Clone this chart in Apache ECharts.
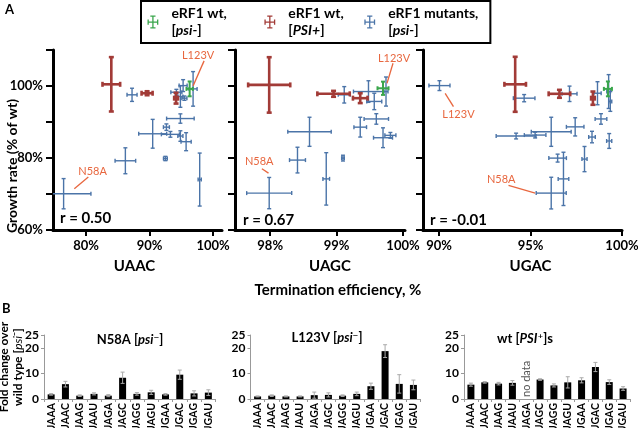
<!DOCTYPE html>
<html><head><meta charset="utf-8">
<script src="https://cdn.jsdelivr.net/npm/echarts@6/dist/echarts.min.js"></script>
<style>html,body{margin:0;padding:0;background:#fff}#c{width:638px;height:428px}</style>
</head><body><div id="c"></div><script>
// ---------- Panel A data: [termination efficiency %, growth rate %, x error, y error]
const uaacWtPsiMinus = [[96.31, 99.2, 0.5, 2.06]];
const uaacWtPsiPlus = [[83.98, 100.47, 1.39, 7.55], [89.61, 97.99, 0.87, 0.55], [94.17, 96.62, 0.3, 1.5]];
const uaacMutants = [
  [87.24, 97.55, 0.79, 1.83], [95.28, 100.11, 0.63, 1.65], [94.22, 98.27, 0.87, 0.8], [95.48, 96.62, 0.4, 0.6],
  [94.85, 97.09, 0.4, 3.0], [96.85, 99.2, 0.63, 4.8], [94.85, 90.96, 2.17, 1.3], [92.65, 88.57, 0.47, 0.9],
  [90.49, 86.73, 2.2, 4.0], [93.28, 86.57, 1.42, 0.8], [94.85, 86.1, 0.4, 1.46], [95.75, 84.53, 0.8, 2.5],
  [86.19, 79.23, 1.62, 3.6], [92.49, 79.86, 0.3, 0.6], [97.89, 74.01, 0.25, 7.36], [76.47, 70.08, 4.3, 4.2]];

const uagcWtPsiMinus = [[99.699, 99.37, 0.083, 1.84]];
const uagcWtPsiPlus = [[97.985, 100.3, 0.317, 7.7], [98.954, 97.83, 0.244, 0.82], [99.356, 96.62, 0.11, 1.37]];
const uagcMutants = [
  [99.115, 97.55, 0.09, 2.28], [99.48, 98.46, 0.226, 3.0], [99.567, 95.71, 0.113, 2.28], [99.744, 98.46, 0.03, 4.04],
  [99.598, 90.85, 0.184, 1.46], [99.356, 88.57, 0.095, 2.75], [99.699, 85.63, 0.143, 2.75], [99.81, 86.29, 0.083, 0.8],
  [99.096, 79.97, 0.02, 0.8], [98.592, 87.28, 0.327, 4.04], [98.411, 79.42, 0.12, 3.57], [98.844, 74.2, 0.05, 7.28],
  [97.985, 70.25, 0.339, 4.34]];

const ugacWtPsiMinus = [[99.23, 99.2, 0.22, 2.06]];
const ugacWtPsiPlus = [[94.16, 100.47, 0.59, 7.64], [96.58, 97.83, 0.59, 1.1], [98.41, 96.62, 0.1, 1.84]];
const ugacMutants = [
  [90.02, 100.11, 0.575, 1.37], [94.65, 96.62, 0.59, 1.0], [97.13, 97.83, 0.41, 2.14], [98.66, 97.99, 0.2, 3.2],
  [99.27, 98.46, 0.1, 4.7], [99.36, 95.71, 0.08, 2.75], [98.85, 90.85, 0.32, 1.46], [97.44, 88.65, 0.48, 2.53],
  [96.13, 87.28, 1.09, 4.04], [94.21, 86.1, 1.09, 0.8], [95.25, 86.37, 0.59, 0.8], [98.36, 85.82, 0.18, 1.6],
  [99.30, 84.73, 0.14, 2.06], [96.48, 79.97, 0.48, 1.1], [97.95, 79.7, 0.14, 3.5], [96.8, 74.2, 0.29, 7.4],
  [96.13, 70.25, 0.82, 4.4]];

const stopCodonsA = ['UAAC', 'UAGC', 'UGAC'];
const rValues = ['r = 0.50', 'r = 0.67', 'r = -0.01'];
const xTicksA = [[80, 90, 100], [98, 99, 100], [90, 95, 100]];
const xRangesA = [[74.8, 101.4], [97.47, 100.03], [89.12, 100]];
const yTicksA = [60, 80, 100];

// ---------- Panel B data
const codons = ['UAAA','UAAC','UAAG','UAAU','UAGA','UAGC','UAGG','UAGU','UGAA','UGAC','UGAG','UGAU'];
const n58aFold = [1.8, 5.8, 1.3, 2.0, 1.3, 8.3, 2.0, 2.6, 1.8, 9.5, 2.2, 2.5];
const n58aErr  = [0.3, 1.1, 0.3, 0.4, 0.4, 2.2, 0.5, 0.8, 0.3, 1.8, 1.0, 1.1];
const l123vFold = [1.0, 1.3, 1.0, 1.0, 1.5, 1.6, 1.3, 2.0, 5.0, 18.7, 5.9, 5.5];
const l123vErr  = [0.2, 0.3, 0.2, 0.2, 1.2, 0.8, 0.3, 0.7, 1.2, 2.5, 3.6, 1.9];
const psiPlusFold = [5.6, 6.5, 6.0, 6.3, null, 7.6, 5.3, 6.5, 7.3, 12.5, 6.6, 4.1];
const psiPlusErr  = [0.6, 0.3, 0.5, 0.9, null, 0.3, 0.6, 2.2, 1.0, 1.8, 0.9, 0.7];

// ---------- styles / layout
const FONT = 'Lato';
const GREEN = '#3aa64c', RED = '#a23b37', BLUE = '#4b74a8', ANNOT = '#e8673f';
const NAMES = ['eRF1 wt, [psi-]', 'eRF1 wt, [PSI+]', 'eRF1 mutants, [psi-]'];
const gridsA = [
  {left: 53, top: 50, width: 169, height: 180},
  {left: 235, top: 50, width: 170, height: 180},
  {left: 423, top: 50, width: 199, height: 180}
];
const gridsB = [
  {left: 44, top: 335, width: 171.5, height: 64},
  {left: 250.5, top: 335, width: 170, height: 64},
  {left: 464, top: 335, width: 166, height: 64}
];

function crossItem(lw, cap) {
  return function (params, api) {
    const x = api.value(0), y = api.value(1), ex = api.value(2), ey = api.value(3);
    const c = api.coord([x, y]);
    const xl = api.coord([x - ex, y])[0], xr = api.coord([x + ex, y])[0];
    const yt = api.coord([x, y + ey])[1], yb = api.coord([x, y - ey])[1];
    const col = api.visual('color');
    const L = (x1, y1, x2, y2) => ({type: 'line', shape: {x1, y1, x2, y2}, style: {stroke: col, lineWidth: lw}});
    return {type: 'group', children: [
      L(xl, c[1], xr, c[1]), L(c[0], yt, c[0], yb),
      L(xl, c[1] - cap, xl, c[1] + cap), L(xr, c[1] - cap, xr, c[1] + cap),
      L(c[0] - cap, yt, c[0] + cap, yt), L(c[0] - cap, yb, c[0] + cap, yb)
    ]};
  };
}

// annotations: label + which mutant point they refer to
const annotations = [
  {g: 0, text: 'L123V', point: uaacMutants[5]},
  {g: 0, text: 'N58A', point: uaacMutants[15]},
  {g: 1, text: 'L123V', point: uagcMutants[3]},
  {g: 1, text: 'N58A', point: uagcMutants[12]},
  {g: 2, text: 'L123V', point: ugacMutants[0]},
  {g: 2, text: 'N58A', point: ugacMutants[16]}
];
// pixel offsets (layout) of label and leader line relative to the point
const annotLayout = [
  {t: [5, -33], l: [[0, -3], [11, -28]]},
  {t: [29, -22], l: [[10.7, -5], [24.7, -16.6]]},
  {t: [8, -33], l: [[1, -8.3], [7, -28.3]]},
  {t: [-10, -32], l: [[-0.7, -20], [-7.3, -24.4]]},
  {t: [19, 29], l: [[5.7, 7.7], [14, 21]]},
  {t: [-50, -14], l: [[-16, 0], [-42.7, -7.7]]}
];

const dataA = [
  [uaacWtPsiMinus, uaacWtPsiPlus, uaacMutants],
  [uagcWtPsiMinus, uagcWtPsiPlus, uagcMutants],
  [ugacWtPsiMinus, ugacWtPsiPlus, ugacMutants]
];

const grid = [], xAxis = [], yAxis = [], series = [];
const boldText = {fontFamily: FONT, fontWeight: 'bold', color: '#000'};

gridsA.forEach((g, i) => {
  grid.push(Object.assign({containLabel: false, outerBoundsMode: 'none'}, g));
  xAxis.push({
    gridIndex: i, type: 'value', min: xRangesA[i][0], max: xRangesA[i][1],
    axisLine: {show: true, onZero: false, lineStyle: {color: '#000', width: 3}},
    axisTick: {show: true, customValues: xTicksA[i], length: 6, lineStyle: {color: '#000', width: 2}},
    axisLabel: Object.assign({customValues: xTicksA[i], formatter: v => v + '%', fontSize: 13, margin: 9}, boldText),
    splitLine: {show: false},
    name: stopCodonsA[i], nameLocation: 'middle', nameGap: 29, nameMoveOverlap: false,
    nameTextStyle: Object.assign({fontSize: 15, padding: [0, 0, 0, [-6, 20, 16][i]]}, boldText)
  });
  yAxis.push({
    gridIndex: i, type: 'value', min: 60, max: 110, interval: 10,
    axisLine: {show: true, onZero: false, lineStyle: {color: '#000', width: 3}},
    axisTick: {show: true, length: 7, lineStyle: {color: '#000', width: 2}},
    axisLabel: Object.assign({show: i === 0, fontSize: 13, margin: 10,
      formatter: v => yTicksA.includes(v) ? v + '%' : ''}, boldText),
    splitLine: {show: false},
    name: i === 0 ? 'Growth rate (% of wt)' : '', nameLocation: 'middle', nameGap: 34, nameRotate: 90,
    nameMoveOverlap: false,
    nameTextStyle: Object.assign({fontSize: 14, padding: [0, 52, 0, 0]}, boldText)
  });
  const [gm, gp, mu] = dataA[i];
  series.push({type: 'custom', name: NAMES[2], xAxisIndex: i, yAxisIndex: i, data: mu, clip: true, z: 2,
    itemStyle: {color: BLUE}, encode: {x: 0, y: 1}, renderItem: crossItem(1.4, 2)});
  series.push({type: 'custom', name: NAMES[1], xAxisIndex: i, yAxisIndex: i, data: gp, clip: true, z: 3,
    itemStyle: {color: RED}, encode: {x: 0, y: 1}, renderItem: crossItem(2.6, 2.5)});
  series.push({type: 'custom', name: NAMES[0], xAxisIndex: i, yAxisIndex: i, data: gm, clip: true, z: 4,
    itemStyle: {color: GREEN}, encode: {x: 0, y: 1}, renderItem: crossItem(2, 2)});
  // annotations for this grid
  const idx = annotations.map((a, k) => a.g === i ? k : -1).filter(k => k >= 0);
  series.push({type: 'custom', name: 'annot' + i, xAxisIndex: i, yAxisIndex: i, z: 5, silent: true,
    data: idx.map(k => [annotations[k].point[0], annotations[k].point[1], k]),
    encode: {x: 0, y: 1},
    renderItem: (params, api) => {
      const k = api.value(2);
      const c = api.coord([api.value(0), api.value(1)]);
      const lay = annotLayout[k];
      return {type: 'group', children: [
        {type: 'line', shape: {x1: c[0] + lay.l[0][0], y1: c[1] + lay.l[0][1], x2: c[0] + lay.l[1][0], y2: c[1] + lay.l[1][1]},
          style: {stroke: ANNOT, lineWidth: 1.3}},
        {type: 'text', x: c[0] + lay.t[0], y: c[1] + lay.t[1],
          style: {text: annotations[k].text, fill: ANNOT, font: '11px ' + FONT, align: 'center', verticalAlign: 'middle'}}
      ]};
    }});
});

const foldB = [[n58aFold, n58aErr], [l123vFold, l123vErr], [psiPlusFold, psiPlusErr]];
gridsB.forEach((g, j) => {
  const i = j + 3;
  grid.push(Object.assign({containLabel: false, outerBoundsMode: 'none'}, g));
  xAxis.push({
    gridIndex: i, type: 'category', data: codons,
    axisLine: {show: true, lineStyle: {color: '#999', width: 1}},
    axisTick: {show: true, length: 3, lineStyle: {color: '#999'}},
    axisLabel: Object.assign({rotate: 90, interval: 0, fontSize: 10.5, margin: 4, hideOverlap: false}, boldText)
  });
  yAxis.push({
    gridIndex: i, type: 'value', min: 0, max: 25, interval: 10,
    axisLine: {show: true, lineStyle: {color: '#999', width: 1}},
    axisTick: {show: true, length: 3, lineStyle: {color: '#999'}},
    axisLabel: Object.assign({fontSize: 12, margin: 5}, boldText),
    splitLine: {show: false},
    name: j === 0 ? 'Fold change over\nwild type [{i|psi}⁻]' : '',
    nameLocation: 'middle', nameGap: 19, nameRotate: 90, nameMoveOverlap: false,
    nameTextStyle: Object.assign({fontSize: 12, lineHeight: 14,
      rich: {i: {fontStyle: 'italic', fontWeight: 'normal', fontFamily: FONT, fontSize: 12, lineHeight: 14}}}, boldText)
  });
  const [vals, errs] = foldB[j];
  series.push({type: 'bar', xAxisIndex: i, yAxisIndex: i, data: vals, barWidth: 7,
    itemStyle: {color: '#000'}, silent: true, z: 2});
  series.push({type: 'custom', xAxisIndex: i, yAxisIndex: i, z: 3, silent: true,
    data: vals.map((v, k) => v == null ? null : [k, v, errs[k]]).filter(d => d),
    encode: {x: 0, y: 1},
    renderItem: (params, api) => {
      const k = api.value(0), v = api.value(1), e = api.value(2);
      const t = api.coord([k, v + e]), b = api.coord([k, v - e]);
      const st = () => ({stroke: '#aaa', lineWidth: 1});
      return {type: 'group', children: [
        {type: 'line', shape: {x1: t[0], y1: t[1], x2: b[0], y2: b[1]}, style: st()},
        {type: 'line', shape: {x1: t[0] - 2, y1: t[1], x2: t[0] + 2, y2: t[1]}, style: st()},
        {type: 'line', shape: {x1: b[0] - 2, y1: b[1], x2: b[0] + 2, y2: b[1]}, style: st()}
      ]};
    }});
  // "no data" marker for missing values
  const missing = vals.map((v, k) => v == null ? [k, 0] : null).filter(d => d);
  if (missing.length) {
    series.push({type: 'custom', xAxisIndex: i, yAxisIndex: i, z: 3, silent: true, data: missing,
      encode: {x: 0, y: 1},
      renderItem: (params, api) => {
        const c = api.coord([api.value(0), api.value(1)]);
        return {type: 'text', x: c[0], y: c[1] - 2, rotation: Math.PI / 2,
          style: {text: 'no data', fill: '#555', font: '11px ' + FONT, align: 'left', verticalAlign: 'middle'}};
      }});
  }
});

const crossIcon = 'path://M0,5.5h10v1.2h-10z M4.4,0h1.2v12h-1.2z M0,3.6h1.2v5h-1.2z M8.8,3.6h1.2v5h-1.2z M2.6,0h4.8v1.2h-4.8z M2.6,10.8h4.8v1.2h-4.8z';

const titlesB = [
  {x: 130, y: 340, text: 'N58A [{i|psi}{s|⁻}]'},
  {x: 327, y: 338, text: 'L123V [{i|psi}{s|⁻}]'},
  {x: 525, y: 339, text: 'wt [{i|PSI}{s|⁺}]s'}
];

const graphic = [
  {type: 'text', left: 5, top: 3, style: {text: 'A', font: 'bold 13px ' + FONT, fill: '#000'}},
  {type: 'text', left: 2, top: 302, style: {text: 'B', font: 'bold 13px ' + FONT, fill: '#000'}},
  {type: 'text', x: 60, y: 218, style: {text: rValues[0], font: 'bold 15px ' + FONT, fill: '#000', verticalAlign: 'middle'}},
  {type: 'text', x: 243, y: 220, style: {text: rValues[1], font: 'bold 15px ' + FONT, fill: '#000', verticalAlign: 'middle'}},
  {type: 'text', x: 430, y: 220, style: {text: rValues[2], font: 'bold 15px ' + FONT, fill: '#000', verticalAlign: 'middle'}},
  {type: 'text', x: 338, y: 290, style: {text: 'Termination efficiency, %', font: 'bold 15px ' + FONT, fill: '#000', align: 'center', verticalAlign: 'middle'}}
].concat(titlesB.map(t => ({type: 'text', x: t.x, y: t.y,
  style: {text: t.text, font: 'bold 13px ' + FONT, fill: '#000', align: 'center', verticalAlign: 'middle',
    rich: {i: {fontStyle: 'italic', fontWeight: 'bold', fontFamily: FONT, fontSize: 13},
           s: {fontWeight: 'bold', fontFamily: 'DejaVu Sans', fontSize: 11}}}})));

const chart = echarts.init(document.getElementById('c'), null, {renderer: 'canvas'});
chart.setOption({
  animation: false,
  backgroundColor: '#fff',
  grid, xAxis, yAxis, series, graphic,
  legend: {
    left: 141, top: 1, orient: 'horizontal',
    borderColor: '#000', borderWidth: 2, padding: [4, 12, 4, 6.5],
    itemWidth: 11, itemHeight: 13, itemGap: 10,
    selectedMode: false,
    textStyle: {fontFamily: FONT, fontWeight: 'bold', fontSize: 14, lineHeight: 17, color: '#000', padding: [0, 0, 0, 8],
      rich: {i: {fontFamily: FONT, fontStyle: 'italic', fontWeight: 'bold', fontSize: 14, lineHeight: 17}}},
    formatter: n => n.replace(', [', ',\n[').replace(/\[(psi-|PSI\+)\]/, '[{i|$1}]'),
    data: [
      {name: NAMES[0], icon: crossIcon, textStyle: {width: 83}},
      {name: NAMES[1], icon: crossIcon, textStyle: {width: 66}},
      {name: NAMES[2], icon: crossIcon}
    ]
  }
});
</script></body></html>
